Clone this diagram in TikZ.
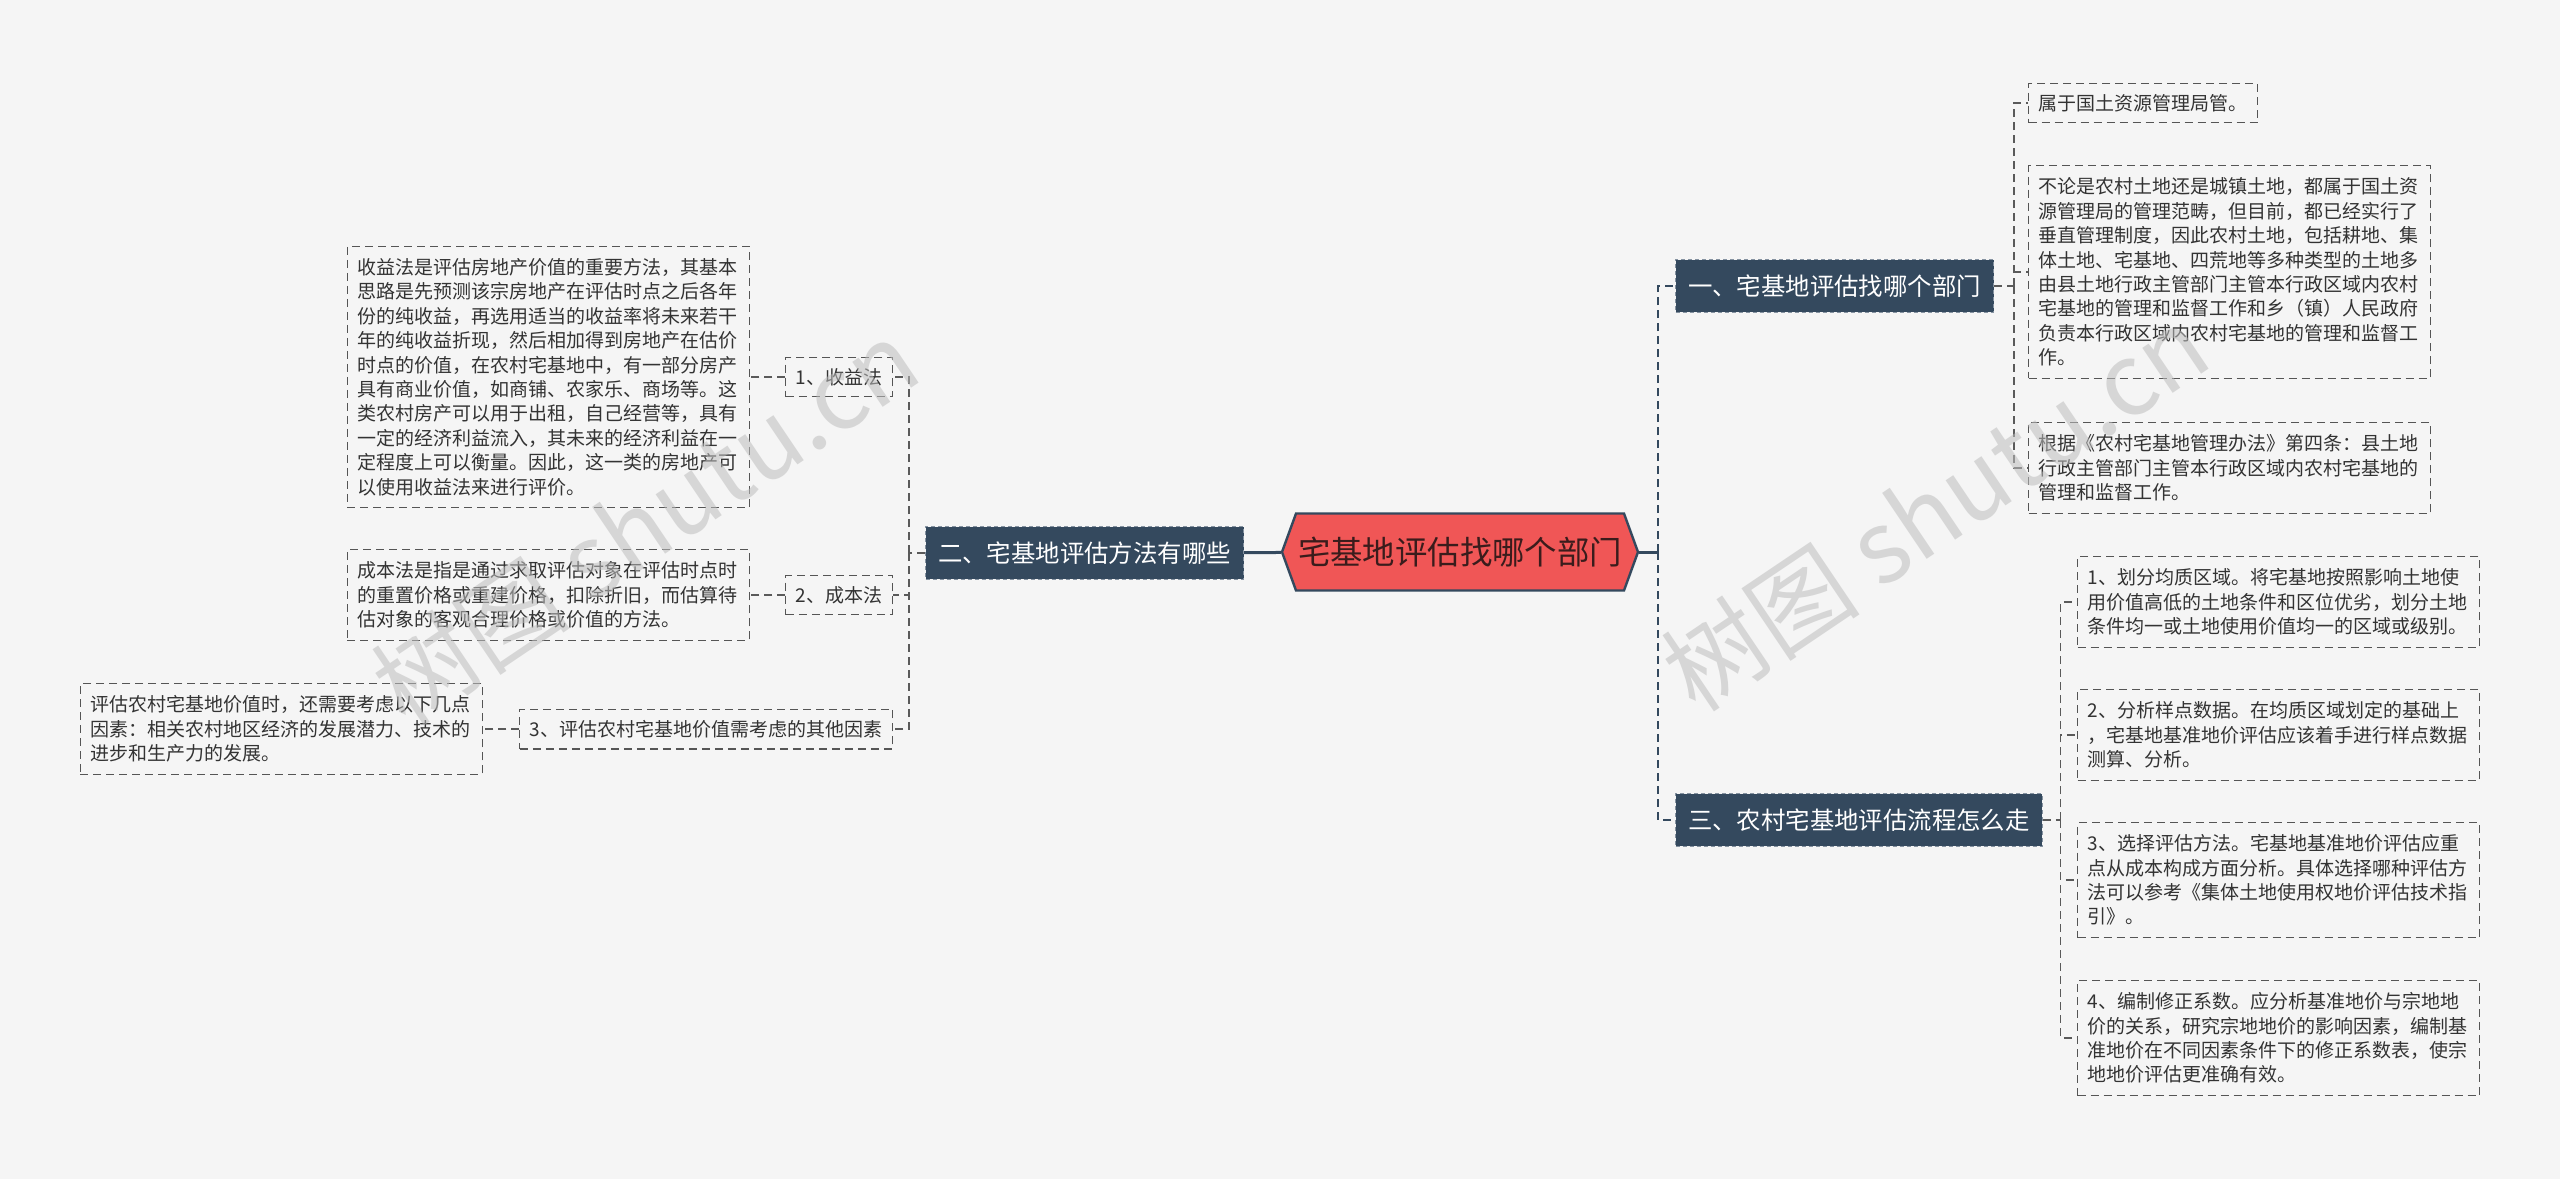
\documentclass[tikz,border=0pt]{standalone}
\usepackage{fontspec}
\usepackage{xcolor}
\setmainfont{Noto Sans CJK SC}
\usetikzlibrary{shapes.symbols}
\definecolor{bg}{HTML}{F5F5F5}
\definecolor{navy}{HTML}{34495E}
\definecolor{navyline}{HTML}{8592A0}
\definecolor{rootred}{HTML}{F05656}
\definecolor{roottext}{HTML}{3A1C1C}
\definecolor{leafline}{HTML}{555555}
\definecolor{linkgray}{HTML}{5A5A5A}
\definecolor{textgray}{HTML}{333333}
\definecolor{wmgray}{HTML}{BDBDBD}

\begin{document}
\begin{tikzpicture}[x=0.5pt,y=-0.5pt,
  leaf/.style={draw=leafline, dash pattern=on 4pt off 2.5pt, line width=0.6pt, text=textgray, font=\fontsize{9.5pt}{12.2pt}\selectfont, text width=191pt, align=left, inner xsep=5pt, inner ysep=6pt},
  tag/.style={draw=leafline, dash pattern=on 4pt off 2.5pt, line width=0.6pt, text=textgray, font=\fontsize{9.5pt}{12.2pt}\selectfont, inner xsep=5pt, inner ysep=5.5pt},
  branch/.style={fill=navy, draw=navyline, dash pattern=on 2pt off 1.5pt, line width=0.5pt, text=white, font=\fontsize{12.2pt}{14pt}\selectfont, inner xsep=6.3pt, inner ysep=7.4pt},
  core/.style={shape=signal, signal to=west and east, signal pointer angle=140, fill=rootred, draw=navy, line width=1.2pt, text=roottext, font=\fontsize{16.2pt}{18pt}\selectfont, minimum width=178pt, minimum height=38.5pt, inner sep=0pt},
  link/.style={draw=linkgray, dash pattern=on 4pt off 2.5pt, line width=0.6pt},
  mainlink/.style={draw=navy, dash pattern=on 4pt off 2.5pt, line width=0.9pt},
  trunk/.style={draw=navy, line width=1.5pt},
  watermark/.style={text=wmgray, opacity=0.55, font=\fontsize{50pt}{50pt}\selectfont, rotate=34}]
\fill[bg] (0,0) rectangle (2560,1179);

\node[core] (root) at (1460,552) {宅基地评估找哪个部门};

\node[branch, anchor=east] (b2) at (1244,553) {二、宅基地评估方法有哪些};
\node[branch, anchor=west] (b1) at (1675,286) {一、宅基地评估找哪个部门};
\node[branch, anchor=west] (b3) at (1675,820) {三、农村宅基地评估流程怎么走};

\node[tag, anchor=east] (c1) at (893,377) {1、收益法};
\node[tag, anchor=east] (c2) at (893,595) {2、成本法};
\node[tag, anchor=east] (c3) at (893,729) {3、评估农村宅基地价值需考虑的其他因素};

\node[leaf, anchor=east] (l1) at (750,377) {收益法是评估房地产价值的重要方法，其基本\\思路是先预测该宗房地产在评估时点之后各年\\份的纯收益，再选用适当的收益率将未来若干\\年的纯收益折现，然后相加得到房地产在估价\\时点的价值，在农村宅基地中，有一部分房产\\具有商业价值，如商铺、农家乐、商场等。这\\类农村房产可以用于出租，自己经营等，具有\\一定的经济利益流入，其未来的经济利益在一\\定程度上可以衡量。因此，这一类的房地产可\\以使用收益法来进行评价。};
\node[leaf, anchor=east] (l2) at (750,595) {成本法是指是通过求取评估对象在评估时点时\\的重置价格或重建价格，扣除折旧，而估算待\\估对象的客观合理价格或价值的方法。};
\node[leaf, anchor=east] (l3) at (483,729) {评估农村宅基地价值时，还需要考虑以下几点\\因素：相关农村地区经济的发展潜力、技术的\\进步和生产力的发展。};

\node[tag, anchor=west] (r1a) at (2028,103) {属于国土资源管理局管。};
\node[leaf, anchor=west] (r1b) at (2028,272) {不论是农村土地还是城镇土地，都属于国土资\\源管理局的管理范畴，但目前，都已经实行了\\垂直管理制度，因此农村土地，包括耕地、集\\体土地、宅基地、四荒地等多种类型的土地多\\由县土地行政主管部门主管本行政区域内农村\\宅基地的管理和监督工作和乡（镇）人民政府\\负责本行政区域内农村宅基地的管理和监督工\\作。};
\node[leaf, anchor=west] (r1c) at (2028,468) {根据《农村宅基地管理办法》第四条：县土地\\行政主管部门主管本行政区域内农村宅基地的\\管理和监督工作。};

\node[leaf, anchor=west] (r3a) at (2077,602) {1、划分均质区域。将宅基地按照影响土地使\\用价值高低的土地条件和区位优劣，划分土地\\条件均一或土地使用价值均一的区域或级别。};
\node[leaf, anchor=west] (r3b) at (2077,735) {2、分析样点数据。在均质区域划定的基础上\\，宅基地基准地价评估应该着手进行样点数据\\测算、分析。};
\node[leaf, anchor=west] (r3c) at (2077,880) {3、选择评估方法。宅基地基准地价评估应重\\点从成本构成方面分析。具体选择哪种评估方\\法可以参考《集体土地使用权地价评估技术指\\引》。};
\node[leaf, anchor=west] (r3d) at (2077,1038) {4、编制修正系数。应分析基准地价与宗地地\\价的关系，研究宗地地价的影响因素，编制基\\准地价在不同因素条件下的修正系数表，使宗\\地地价评估更准确有效。};

\draw[trunk] (b2) -- (root);
\draw[trunk] (root.east) -- ++(19,0) coordinate (rj);
\draw[mainlink] (rj) |- (b1);
\draw[mainlink] (rj) |- (b3);

\draw[link] (b2.west) -- ++(-16,0) coordinate (lj);
\draw[link] (lj) |- (c1);
\draw[link] (lj) |- (c2);
\draw[link] (lj) |- (c3);
\draw[link] (c1) -- (l1);
\draw[link] (c2) -- (l2);
\draw[link] (c3) -- (l3);

\draw[link] (b1.east) -- ++(20,0) coordinate (j1);
\draw[link] (j1) |- (r1a);
\draw[link] (j1) |- (r1b);
\draw[link] (j1) |- (r1c);

\draw[link] (b3.east) -- ++(18,0) coordinate (j3);
\draw[link] (j3) |- (r3a);
\draw[link] (j3) |- (r3b);
\draw[link] (j3) |- (r3c);
\draw[link] (j3) |- (r3d);

\node[watermark] (wm1) at (645,522) {树图 shutu.cn};
\node[watermark] (wm2) at (1935,508) {树图 shutu.cn};
\end{tikzpicture}
\end{document}
